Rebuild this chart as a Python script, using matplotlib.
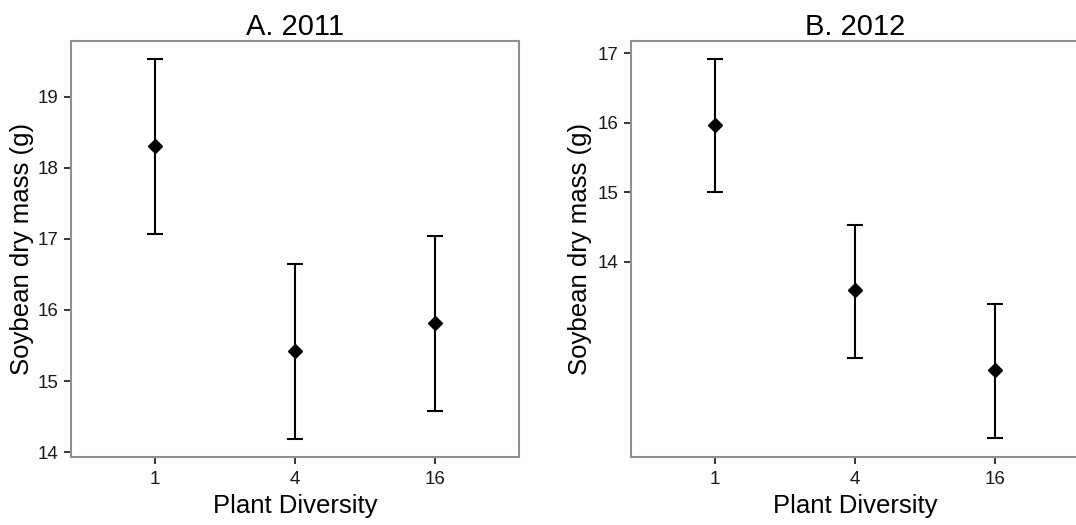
import matplotlib
matplotlib.use("Agg")
import matplotlib.pyplot as plt

plt.rcParams['font.family'] = ['Liberation Sans', 'DejaVu Sans']

# Plant diversity levels
diversity = ["1", "4", "16"]

# 2011 soybean dry mass (g): means and error-bar limits
mass_2011 = [18.31, 15.43, 15.82]
upper_2011 = [19.53, 16.65, 17.04]
lower_2011 = [17.07, 14.19, 14.58]

# 2012 soybean dry mass (g): means and error-bar limits
mass_2012 = [15.97, 13.585, 12.44]
upper_2012 = [16.92, 14.535, 13.39]
lower_2012 = [15.00, 12.61, 11.46]

yticks_2011 = [14, 15, 16, 17, 18, 19]
yticks_2012 = [14, 15, 16, 17]

W, H = 1076, 525
fig = plt.figure(figsize=(W / 100, H / 100), dpi=100)

ax_w = 448 / W
ax_h = (457.3 - 41) / H
ax_b = 1 - 457.3 / H
axA = fig.add_axes([71 / W, ax_b, ax_w, ax_h])
axB = fig.add_axes([631 / W, ax_b, ax_w, ax_h])


def panel(ax, title, means, lo, hi, yticks, ylim):
    x = list(range(1, len(diversity) + 1))
    err = [[m - l for m, l in zip(means, lo)], [h - m for m, h in zip(means, hi)]]
    ax.errorbar(x, means, yerr=err, fmt='D', color='black', ms=7,
                elinewidth=1.5, capsize=6, capthick=1.5, zorder=3)
    ax.set_xlim(0.4, 3.6)
    ax.set_ylim(*ylim)
    ax.set_xticks(x)
    ax.set_xticklabels(diversity)
    ax.set_yticks(yticks)
    ax.set_yticklabels([str(t) for t in yticks])
    for s in ax.spines.values():
        s.set_color('#8f8f8f')
        s.set_linewidth(1.5)
    ax.tick_params(axis='both', direction='out', length=5, width=1.1,
                   color='black', labelsize=13.5, labelcolor='#1a1a1a')
    ax.tick_params(axis='x', pad=5)
    ax.tick_params(axis='y', pad=4)
    ax.set_title(title, fontsize=21, pad=3)
    ax.set_xlabel("Plant Diversity", fontsize=18.5, labelpad=4)
    ax.set_ylabel("Soybean dry mass (g)", fontsize=18.5)


panel(axA, "A. 2011", mass_2011, lower_2011, upper_2011, yticks_2011, (13.93, 19.78))
panel(axB, "B. 2012", mass_2012, lower_2012, upper_2012, yticks_2012, (11.18, 17.18))

axA.yaxis.set_label_coords(-0.082, 0.5)
axB.yaxis.set_label_coords(-0.087, 0.5)

fig.savefig("out.png", dpi=100)
